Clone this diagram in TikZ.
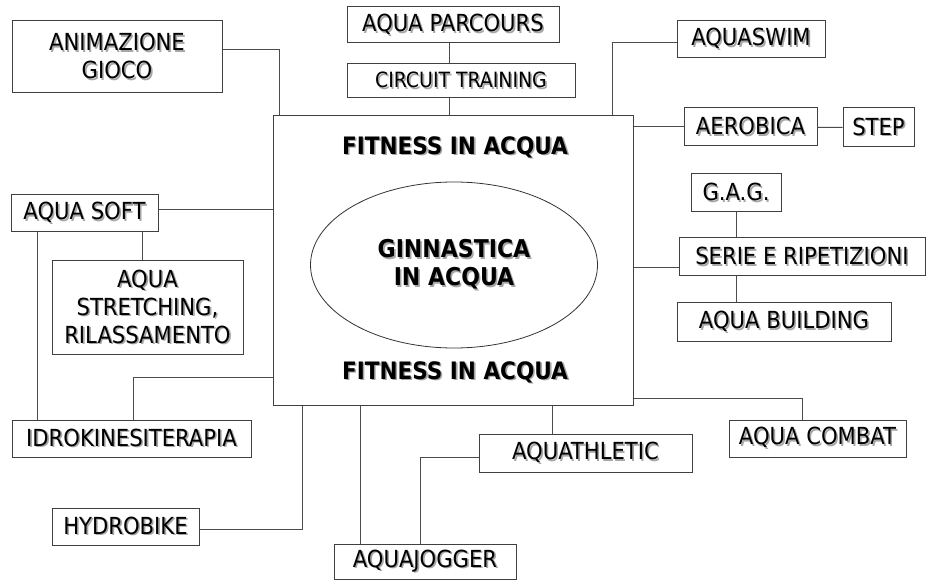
\documentclass[tikz,border=0pt]{standalone}
\usepackage{fontspec}
\setmainfont{DejaVu Sans Condensed}
\usepackage{tikz}
\usetikzlibrary{shapes.geometric}
% text with a soft grey shadow
\newcommand{\shd}[1]{\leavevmode\rlap{\kern1.6pt\raisebox{-1.6pt}{\color{black!35}#1}}#1}

\begin{document}
\begin{tikzpicture}[x=1pt,y=-1pt,box/.style={draw=black!75,line width=1pt,align=center,
 inner sep=0pt},link/.style={draw=black!70,line width=1pt},font=\fontsize{23.5}{28}\selectfont]
\useasboundingbox (0,0) rectangle (927,580);
% centre
\node[box,minimum width=360,minimum height=289] (fit) at (453,260.5) {};
\node[font=\fontsize{24}{28}\selectfont\bfseries] (fittop) at (455,148) {\shd{FITNESS IN ACQUA}};
\node[font=\fontsize{24}{28}\selectfont\bfseries] (fitbot) at (455,373) {\shd{FITNESS IN ACQUA}};
\node[ellipse,draw=black!80,line width=.8pt,minimum width=287,minimum height=166,inner sep=0pt,
 align=center,font=\fontsize{24.5}{28}\selectfont\bfseries] (ginn) at (454,265)
 {\shd{GINNASTICA}\\\shd{IN ACQUA}};
% top and right
\node[box,minimum width=210,minimum height=72] (anim) at (117,57) {\shd{ANIMAZIONE}\\\shd{GIOCO}};
\node[box,minimum width=212,minimum height=36] (parc) at (453,25) {\shd{AQUA PARCOURS}};
\node[box,minimum width=228,minimum height=34,font=\fontsize{21}{25}\selectfont] (circ) at (461,81) {\shd{CIRCUIT TRAINING}};
\node[box,minimum width=148,minimum height=37] (swim) at (751,39.5) {\shd{AQUASWIM}};
\node[box,minimum width=133,minimum height=38] (aero) at (750.5,127) {\shd{AEROBICA}};
\node[box,minimum width=71,minimum height=39] (step) at (878.5,127.5) {\shd{STEP}};
\node[box,minimum width=90,minimum height=38] (gag) at (736,193) {\shd{G.A.G.}};
\node[box,minimum width=246,minimum height=38] (serie) at (802,257) {\shd{SERIE E RIPETIZIONI}};
\node[box,minimum width=214,minimum height=38] (build) at (784,322) {\shd{AQUA BUILDING}};
% left
\node[box,minimum width=147,minimum height=37] (soft) at (84.5,213.5) {\shd{AQUA SOFT}};
\node[box,minimum width=191,minimum height=93] (stretch) at (147.5,307.5)
 {\shd{AQUA}\\\shd{STRETCHING,}\\\shd{RILASSAMENTO}};
\node[box,minimum width=239,minimum height=37] (idro) at (131.5,438.5) {\shd{IDROKINESITERAPIA}};
\node[box,minimum width=147,minimum height=37] (hydro) at (125.5,526.5) {\shd{HYDROBIKE}};
% bottom
\node[box,minimum width=182,minimum height=35] (jog) at (425,561.5) {\shd{AQUAJOGGER}};
\node[box,minimum width=213,minimum height=38] (athl) at (585.5,453) {\shd{AQUATHLETIC}};
\node[box,minimum width=177,minimum height=37] (combat) at (817.5,438.5) {\shd{AQUA COMBAT}};

\draw[link] ([yshift=7pt]anim.east) -| ([xshift=7pt]fit.north west);
\draw[link] ([xshift=-4pt]parc.south) -- ([xshift=-12pt]circ.north);
\draw[link] ([xshift=-12pt]circ.south) -- ([xshift=-12pt]circ.south |- fit.north);
\draw[link] ([yshift=-3.5pt]swim.west) -| ([xshift=-21pt]fit.north east);
\draw[link] (aero.west) -- (aero.west -| fit.east);
\draw[link] (aero) -- (step);
\draw[link] (gag) -- (gag |- serie.north);
\draw[link] ([yshift=-11pt]serie.west) -- ([yshift=-11pt]serie.west -| fit.east);
\draw[link] (serie.south -| gag) -- (build.north -| gag);
\draw[link] ([yshift=4pt]soft.east) -- ([yshift=4pt]soft.east -| fit.west);
\draw[link] ([xshift=57.5pt]soft.south) -- ([xshift=57.5pt]soft.south |- stretch.north);
\draw[link] ([xshift=-47.5pt]soft.south) -- ([xshift=-47.5pt]soft.south |- idro.north);
\draw[link] ([xshift=1.5pt]idro.north) |- ([yshift=28pt]fit.south west);
\draw[link] ([yshift=-2.5pt]hydro.east) -| ([xshift=30pt]fit.south west);
\draw[link] ([xshift=88pt]fit.south west) -- ([xshift=88pt]fit.south west |- jog.north);
\draw[link] ([xshift=280pt]fit.south west) -- ([xshift=280pt]fit.south west |- athl.north);
\draw[link] ([yshift=-4pt]athl.west) -| ([xshift=-5pt]jog.north);
\draw[link] ([yshift=7pt]fit.south east) -| ([xshift=-15.5pt]combat.north);
\end{tikzpicture}
\end{document}
